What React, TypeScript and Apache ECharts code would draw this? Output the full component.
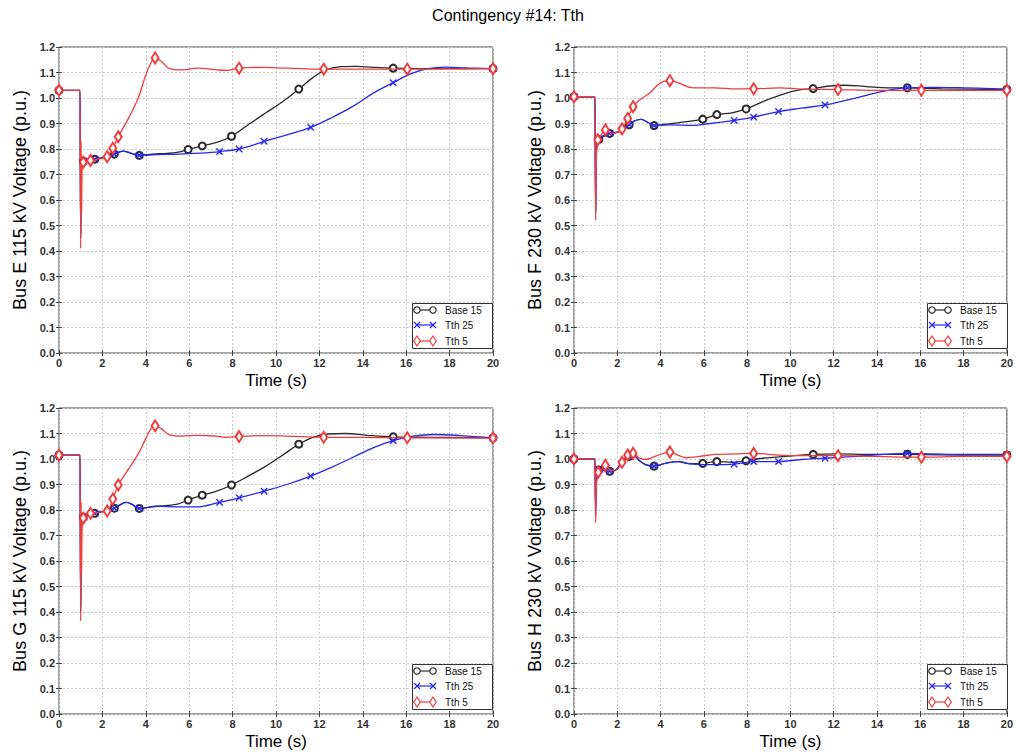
import React, { useEffect, useRef } from "react";
import * as echarts from "echarts";

type Pt = [number, number, number?];

const TITLE = "Contingency #14: Tth";
const SERIES_NAMES = ["Base 15", "Tth 25", "Tth 5"];
const X_LABEL = "Time (s)";
const Y_LABELS = [
  "Bus E 115 kV Voltage (p.u.)",
  "Bus F 230 kV Voltage (p.u.)",
  "Bus G 115 kV Voltage (p.u.)",
  "Bus H 230 kV Voltage (p.u.)",
];

// [time (s), voltage (p.u.), marker flag]
const E_BASE: Pt[] = [
  [0, 1.03, 1], [0.97, 1.03], [1.0, 1.03], [1.0, 0.45], [1.03, 0.72], [1.12, 0.752, 1], [1.4, 0.757], [1.65, 0.76, 1],
  [2.2, 0.77], [2.55, 0.78, 1], [2.95, 0.792], [3.3, 0.784], [3.7, 0.775, 1], [4.3, 0.78], [5.0, 0.783],
  [5.5, 0.788], [5.95, 0.798, 1], [6.6, 0.812, 1], [7.3, 0.827], [7.95, 0.85, 1], [8.8, 0.9], [9.5, 0.94],
  [10.3, 0.985], [11.05, 1.035, 1], [11.7, 1.08], [12.3, 1.11], [13.0, 1.123], [13.7, 1.124], [14.5, 1.12],
  [15.4, 1.117, 1], [17, 1.115], [18.5, 1.115], [20, 1.115, 1],
];
const E_TTH25: Pt[] = [
  [0, 1.03, 1], [0.97, 1.03], [1.0, 1.03], [1.0, 0.47], [1.03, 0.72], [1.15, 0.752, 1], [1.65, 0.76, 1], [2.2, 0.77],
  [2.55, 0.78, 1], [2.95, 0.792], [3.3, 0.784], [3.7, 0.775, 1], [4.5, 0.778], [5.5, 0.78], [6.5, 0.784],
  [7.4, 0.79, 1], [8.3, 0.8, 1], [8.9, 0.814], [9.45, 0.83, 1], [10.5, 0.855], [11.6, 0.885, 1], [12.5, 0.92],
  [13.5, 0.965], [14.5, 1.02], [15.4, 1.06, 1], [16.2, 1.095], [17, 1.115], [17.8, 1.121], [18.8, 1.118],
  [20, 1.115, 1],
];
const E_TTH5: Pt[] = [
  [0, 1.03, 1], [0.97, 1.03], [1.0, 1.03], [1.0, 0.41], [1.02, 0.83], [1.04, 0.55], [1.07, 0.74], [1.12, 0.748, 1],
  [1.3, 0.75], [1.45, 0.755, 1], [1.9, 0.762], [2.22, 0.77, 1], [2.48, 0.803, 1], [2.73, 0.848, 1],
  [3.2, 0.92], [3.65, 1.0], [4.0, 1.09], [4.25, 1.14], [4.43, 1.157, 1], [4.7, 1.145], [5.1, 1.115],
  [5.6, 1.11], [6.4, 1.117], [7.2, 1.111], [7.7, 1.108], [8.3, 1.117, 1], [9.5, 1.12], [10.5, 1.117],
  [12.2, 1.113, 1], [14, 1.113], [16.05, 1.113, 1], [18, 1.114], [20, 1.115, 1],
];

const F_BASE: Pt[] = [
  [0, 1.005, 1], [0.97, 1.005], [1.0, 1.005], [1.0, 0.55], [1.03, 0.78], [1.15, 0.838, 1], [1.4, 0.85], [1.65, 0.861, 1],
  [2.1, 0.868], [2.55, 0.895, 1], [2.8, 0.91], [3.1, 0.916], [3.4, 0.905], [3.7, 0.892, 1], [4.2, 0.897],
  [5.0, 0.905], [5.95, 0.917, 1], [6.6, 0.935, 1], [7.3, 0.942], [7.95, 0.957, 1], [8.7, 0.985], [9.5, 1.01],
  [10.3, 1.03], [11.05, 1.037, 1], [11.8, 1.047], [12.5, 1.05], [13.5, 1.045], [14.5, 1.04], [15.4, 1.04, 1],
  [17, 1.036], [20, 1.033, 1],
];
const F_TTH25: Pt[] = [
  [0, 1.005, 1], [0.97, 1.005], [1.0, 1.005], [1.0, 0.56], [1.03, 0.78], [1.15, 0.838, 1], [1.65, 0.861, 1], [2.1, 0.868],
  [2.55, 0.895, 1], [2.8, 0.91], [3.1, 0.916], [3.4, 0.905], [3.7, 0.892, 1], [4.5, 0.895], [5.5, 0.893],
  [6.3, 0.9], [6.9, 0.906], [7.4, 0.912, 1], [8.3, 0.925, 1], [9.45, 0.947, 1], [10.5, 0.96], [11.6, 0.973, 1],
  [12.5, 0.99], [13.5, 1.01], [14.5, 1.03], [15.4, 1.04, 1], [16.5, 1.042], [18, 1.04], [20, 1.035, 1],
];
const F_TTH5: Pt[] = [
  [0, 1.005, 1], [0.97, 1.005], [1.0, 1.005], [1.0, 0.52], [1.03, 0.75], [1.1, 0.836, 1], [1.3, 0.86], [1.45, 0.875, 1],
  [1.75, 0.86], [2.0, 0.865], [2.22, 0.879, 1], [2.48, 0.92, 1], [2.73, 0.966, 1], [3.0, 0.99], [3.5, 1.02],
  [4.0, 1.06], [4.43, 1.068, 1], [4.8, 1.06], [5.5, 1.04], [6.5, 1.04], [7.5, 1.036], [8.3, 1.036, 1],
  [9.5, 1.04], [10.5, 1.035], [12.2, 1.033, 1], [14, 1.03], [16.05, 1.03, 1], [18, 1.03], [20, 1.03, 1],
];

const G_BASE: Pt[] = [
  [0, 1.015, 1], [0.97, 1.015], [1.0, 1.015], [1.0, 0.4], [1.03, 0.72], [1.12, 0.772, 1], [1.4, 0.78], [1.65, 0.787, 1],
  [2.2, 0.798], [2.55, 0.807, 1], [2.85, 0.822], [3.1, 0.83], [3.4, 0.82], [3.7, 0.806, 1], [4.3, 0.812],
  [5.0, 0.818], [5.5, 0.824], [5.95, 0.839, 1], [6.6, 0.858, 1], [7.3, 0.875], [7.95, 0.898, 1], [8.8, 0.937],
  [9.5, 0.97], [10.3, 1.015], [11.05, 1.058, 1], [11.7, 1.085], [12.4, 1.098], [13.2, 1.1], [14.2, 1.093],
  [15.4, 1.087, 1], [17, 1.085], [20, 1.083, 1],
];
const G_TTH25: Pt[] = [
  [0, 1.015, 1], [0.97, 1.015], [1.0, 1.015], [1.0, 0.42], [1.03, 0.72], [1.15, 0.772, 1], [1.65, 0.787, 1], [2.2, 0.798],
  [2.55, 0.807, 1], [2.85, 0.822], [3.1, 0.83], [3.4, 0.82], [3.7, 0.806, 1], [4.5, 0.815], [5.5, 0.812],
  [6.3, 0.812], [7.4, 0.83, 1], [8.3, 0.848, 1], [9.45, 0.874, 1], [10.5, 0.9], [11.6, 0.933, 1], [12.5, 0.965],
  [13.5, 1.005], [14.5, 1.045], [15.4, 1.072, 1], [16.3, 1.09], [17.3, 1.096], [18.5, 1.092], [20, 1.083, 1],
];
const G_TTH5: Pt[] = [
  [0, 1.015, 1], [0.97, 1.015], [1.0, 1.015], [1.0, 0.365], [1.02, 0.83], [1.04, 0.55], [1.07, 0.75], [1.12, 0.768, 1],
  [1.45, 0.787, 1], [1.9, 0.792], [2.22, 0.796, 1], [2.48, 0.843, 1], [2.73, 0.898, 1], [3.2, 0.96],
  [3.65, 1.02], [4.0, 1.08], [4.25, 1.12], [4.43, 1.13, 1], [4.7, 1.12], [5.1, 1.095], [5.6, 1.09],
  [6.4, 1.093], [7.2, 1.09], [7.7, 1.085], [8.3, 1.088, 1], [9.5, 1.092], [10.5, 1.09], [12.2, 1.085, 1],
  [14, 1.085], [16.05, 1.083, 1], [18, 1.083], [20, 1.082, 1],
];

const H_BASE: Pt[] = [
  [0, 1.0, 1], [0.97, 1.0], [1.0, 1.0], [1.0, 0.78], [1.03, 0.9], [1.15, 0.957, 1], [1.4, 0.96], [1.65, 0.952, 1],
  [1.9, 0.955], [2.2, 0.985], [2.55, 1.01, 1], [2.75, 1.015], [3.0, 0.995], [3.3, 0.978], [3.7, 0.972, 1],
  [4.3, 0.985], [4.8, 0.99], [5.3, 0.982], [5.95, 0.983, 1], [6.6, 0.99, 1], [7.3, 0.987], [7.95, 0.993, 1],
  [8.7, 1.003], [9.5, 1.008], [11.05, 1.018, 1], [12.3, 1.02], [13.5, 1.018], [15.4, 1.018, 1], [17, 1.016],
  [20, 1.015, 1],
];
const H_TTH25: Pt[] = [
  [0, 1.0, 1], [0.97, 1.0], [1.0, 1.0], [1.0, 0.8], [1.03, 0.9], [1.15, 0.957, 1], [1.65, 0.952, 1], [1.9, 0.955],
  [2.2, 0.985], [2.55, 1.01, 1], [2.75, 1.015], [3.0, 0.995], [3.3, 0.978], [3.7, 0.972, 1], [4.3, 0.985],
  [4.8, 0.99], [5.5, 0.98], [6.5, 0.978], [7.4, 0.98, 1], [8.3, 0.99, 1], [9.45, 0.99, 1], [10.5, 0.998],
  [11.6, 1.003, 1], [13, 1.01], [14.3, 1.018], [15.4, 1.022, 1], [16.5, 1.02], [18, 1.018], [20, 1.018, 1],
];
const H_TTH5: Pt[] = [
  [0, 1.0, 1], [0.97, 1.0], [1.0, 1.0], [1.0, 0.75], [1.03, 0.88], [1.12, 0.948, 1], [1.3, 0.96], [1.45, 0.975, 1],
  [1.7, 0.955], [2.0, 0.96], [2.22, 0.987, 1], [2.48, 1.016, 1], [2.73, 1.022, 1], [3.0, 1.005], [3.3, 0.998],
  [3.8, 1.012], [4.43, 1.027, 1], [4.8, 1.015], [5.2, 1.005], [5.8, 1.01], [6.5, 1.018], [7.5, 1.02],
  [8.3, 1.022, 1], [9.5, 1.015], [10.5, 1.013], [12.2, 1.013, 1], [14, 1.01], [16.05, 1.007, 1], [18, 1.01],
  [20, 1.01, 1],
];

const PANEL_DATA: Pt[][][] = [
  [E_BASE, E_TTH25, E_TTH5],
  [F_BASE, F_TTH25, F_TTH5],
  [G_BASE, G_TTH25, G_TTH5],
  [H_BASE, H_TTH25, H_TTH5],
];

const FONT = '"Liberation Sans", Arial, Helvetica, sans-serif';
const COLORS = ["#2a2a2a", "#2626f0", "#f23a3a"];
const X_PATH = "path://M0,1.2L1.2,0L5,3.8L8.8,0L10,1.2L6.2,5L10,8.8L8.8,10L5,6.2L1.2,10L0,8.8L3.8,5Z";
const SYMBOLS = ["emptyCircle", X_PATH, "emptyDiamond"];
const SYMBOL_SIZES: any[] = [7, 7, [7, 11]];

const PLOT_W = 434;
const PLOT_H = 306;
const LAYOUT = [
  { left: 59, top: 47 },
  { left: 574, top: 47 },
  { left: 59, top: 408 },
  { left: 574, top: 408 },
];

function legendGraphics(left: number, top: number) {
  const bx = left + PLOT_W - 81;
  const by = top + PLOT_H - 50;
  const els: any[] = [
    {
      type: "rect",
      shape: { x: bx + 0.5, y: by + 0.5, width: 80, height: 45 },
      style: { fill: "#fff", stroke: "#333", lineWidth: 1 },
      z: 100,
    },
  ];
  const ys = [by + 7, by + 22, by + 38];
  ys.forEach((y, k) => {
    const c = COLORS[k];
    const x1 = bx + 5;
    const x2 = bx + 21;
    els.push({ type: "line", shape: { x1, y1: y, x2, y2: y }, style: { stroke: c, lineWidth: 1.2 }, z: 101 });
    [x1, x2].forEach((x) => {
      if (k === 0) {
        els.push({ type: "circle", shape: { cx: x, cy: y, r: 3.2 }, style: { fill: "#fff", stroke: c, lineWidth: 1.2 }, z: 102 });
      } else if (k === 1) {
        els.push({ type: "line", shape: { x1: x - 3, y1: y - 3, x2: x + 3, y2: y + 3 }, style: { stroke: c, lineWidth: 1.2 }, z: 102 });
        els.push({ type: "line", shape: { x1: x - 3, y1: y + 3, x2: x + 3, y2: y - 3 }, style: { stroke: c, lineWidth: 1.2 }, z: 102 });
      } else {
        els.push({
          type: "polygon",
          shape: { points: [[x, y - 5], [x + 3.3, y], [x, y + 5], [x - 3.3, y]] },
          style: { fill: "#fff", stroke: c, lineWidth: 1.2 },
          z: 102,
        });
      }
    });
    els.push({
      type: "text",
      style: { text: SERIES_NAMES[k], x: bx + 33, y, verticalAlign: "middle", fill: "#111", font: `10px ${FONT}` },
      z: 102,
    });
  });
  return els;
}

export default function App() {
  const ref = useRef<HTMLDivElement>(null);
  useEffect(() => {
    if (!ref.current) return;
    const chart = echarts.init(ref.current, undefined, { renderer: "svg" });
    const grid: any[] = [];
    const xAxis: any[] = [];
    const yAxis: any[] = [];
    const series: any[] = [];
    let graphic: any[] = [];
    LAYOUT.forEach((p, i) => {
      grid.push({
        left: p.left, top: p.top, width: PLOT_W, height: PLOT_H,
        show: true, borderColor: "#444", borderWidth: 1, backgroundColor: "transparent",
      });
      const tickStyle = { inside: true, length: 3, lineStyle: { color: "#444" } };
      xAxis.push({
        gridIndex: i, type: "value", min: 0, max: 20, interval: 2, position: "bottom",
        axisLine: { show: false }, axisTick: tickStyle,
        axisLabel: { fontSize: 11, fontWeight: "bold", color: "#333", margin: 4, fontFamily: FONT },
        splitLine: { show: true, lineStyle: { type: [2, 2], color: "#cacaca", width: 1 } },
        name: X_LABEL, nameLocation: "middle", nameGap: 19,
        nameTextStyle: { fontSize: 17, color: "#000", fontFamily: FONT },
      });
      xAxis.push({
        gridIndex: i, type: "value", min: 0, max: 20, interval: 2, position: "top",
        axisLine: { show: false }, axisTick: tickStyle, axisLabel: { show: false }, splitLine: { show: false },
      });
      yAxis.push({
        gridIndex: i, type: "value", min: 0, max: 1.2, interval: 0.1, position: "left",
        axisLine: { show: false }, axisTick: tickStyle,
        axisLabel: {
          fontSize: 11, fontWeight: "bold", color: "#333", margin: 4, fontFamily: FONT,
          formatter: (v: number) => v.toFixed(1),
        },
        splitLine: { show: true, lineStyle: { type: [2, 2], color: "#cacaca", width: 1 } },
        name: Y_LABELS[i], nameLocation: "middle", nameGap: 30, nameRotate: 90,
        nameTextStyle: { fontSize: 18, color: "#000", fontFamily: FONT },
      });
      yAxis.push({
        gridIndex: i, type: "value", min: 0, max: 1.2, interval: 0.1, position: "right",
        axisLine: { show: false }, axisTick: tickStyle, axisLabel: { show: false }, splitLine: { show: false },
      });
      PANEL_DATA[i].forEach((pts, k) => {
        series.push({
          type: "line",
          name: SERIES_NAMES[k],
          xAxisIndex: 2 * i,
          yAxisIndex: 2 * i,
          smooth: 0.4,
          showSymbol: true,
          showAllSymbol: true,
          symbol: SYMBOLS[k],
          symbolSize: SYMBOL_SIZES[k],
          lineStyle: { color: COLORS[k], width: 1.3 },
          itemStyle: { color: COLORS[k], borderColor: COLORS[k], borderWidth: k === 1 ? 0.3 : 1.2 },
          z: 10 + k,
          data: pts.map((d) => (d[2] ? { value: [d[0], d[1]] } : { value: [d[0], d[1]], symbol: "none" })),
        });
      });
      graphic = graphic.concat(legendGraphics(p.left, p.top));
    });
    chart.setOption({
      animation: false,
      backgroundColor: "#fff",
      title: {
        text: TITLE, left: "center", top: 2,
        textStyle: { fontSize: 16, fontWeight: "normal", color: "#000", fontFamily: FONT },
      },
      grid, xAxis, yAxis, series, graphic,
    });
    return () => chart.dispose();
  }, []);
  return (
    <div
      ref={ref}
      style={{ position: "fixed", left: 0, top: 0, width: 1016, height: 755, background: "#fff" }}
    />
  );
}
